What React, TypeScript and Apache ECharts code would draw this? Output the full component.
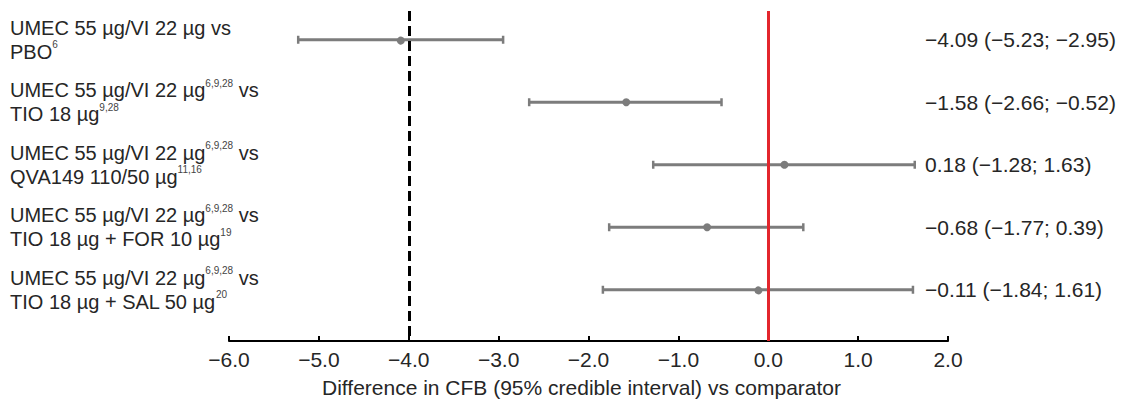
import React, { useEffect, useRef } from "react";
import * as echarts from "echarts";

// ---- data ----
const treatment = "UMEC 55 µg/VI 22 µg";
const treatmentRefs = ["", "6,9,28", "6,9,28", "6,9,28", "6,9,28"];
const comparators = ["PBO", "TIO 18 µg", "QVA149 110/50 µg", "TIO 18 µg + FOR 10 µg", "TIO 18 µg + SAL 50 µg"];
const comparatorRefs = ["6", "9,28", "11,16", "19", "20"];
const estimates = [-4.09, -1.58, 0.18, -0.68, -0.11];
const lowerCI = [-5.23, -2.66, -1.28, -1.77, -1.84];
const upperCI = [-2.95, -0.52, 1.63, 0.39, 1.61];
const xMin = -6;
const xMax = 2;
const xStep = 1;
const mcidLine = -4;
const noEffectLine = 0;
const xTitle = "Difference in CFB (95% credible interval) vs comparator";

const FONT = "Liberation Sans, Arial, sans-serif";
const TEXT = "#262626";
const GRAY = "#7c7c7c";

const fmt = (v: number, d: number) => (v < 0 ? "\u2212" : "") + Math.abs(v).toFixed(d);

export default function App() {
  const ref = useRef<HTMLDivElement>(null);
  useEffect(() => {
    document.body.style.margin = "0";
    const chart = echarts.init(ref.current!, null, { renderer: "svg" });
    const idx = comparators.map((_, i) => i);
    const rows = idx.map((i) => [i, estimates[i], lowerCI[i], upperCI[i]]);
    const leftLabel = (i: number) => {
      const r1 = treatmentRefs[i] ? `{sup|${treatmentRefs[i]}}` : "";
      return `${treatment}${r1} vs\n${comparators[i]}{sup|${comparatorRefs[i]}}`;
    };
    const rightLabel = (i: number) =>
      `${fmt(estimates[i], 2)} (${fmt(lowerCI[i], 2)}; ${fmt(upperCI[i], 2)})`;

    const yCommon = {
      type: "value" as const,
      min: -0.46,
      max: 4.82,
      inverse: true,
      axisLine: { show: false },
      axisTick: { show: false },
      splitLine: { show: false },
    };

    chart.setOption({
      animation: false,
      grid: { left: 229, right: 177, top: 11, bottom: 62, outerBoundsMode: "none" },
      xAxis: {
        type: "value",
        min: xMin,
        max: xMax,
        interval: xStep,
        axisLine: { show: true, onZero: false, lineStyle: { color: "#000", width: 2 } },
        axisTick: { show: true, inside: true, length: 5, lineStyle: { color: "#000", width: 2 } },
        splitLine: { show: false },
        axisLabel: {
          margin: 8,
          fontFamily: FONT,
          fontSize: 21,
          color: TEXT,
          formatter: (v: number) => fmt(v, 1),
        },
        name: xTitle,
        nameLocation: "middle",
        nameGap: 36,
        nameTextStyle: { fontFamily: FONT, fontSize: 21, color: TEXT, padding: [0, 14, 0, 0] },
      },
      yAxis: [
        {
          ...yCommon,
          position: "left",
          axisLabel: {
            customValues: idx,
            align: "left",
            margin: 219,
            fontFamily: FONT,
            fontSize: 20,
            lineHeight: 24,
            color: TEXT,
            formatter: (v: number) => leftLabel(Math.round(v)),
            rich: {
              sup: { fontFamily: FONT, fontSize: 10, lineHeight: 24, verticalAlign: "top", color: "#444" },
            },
          },
        },
        {
          ...yCommon,
          position: "right",
          axisLabel: {
            customValues: idx,
            align: "left",
            margin: -23,
            fontFamily: FONT,
            fontSize: 21,
            color: TEXT,
            formatter: (v: number) => rightLabel(Math.round(v)),
          },
        },
      ],
      series: [
        {
          type: "custom",
          xAxisIndex: 0,
          yAxisIndex: 0,
          encode: { x: [1, 2, 3], y: 0 },
          data: rows,
          renderItem: (_p: any, api: any) => {
            const y = api.value(0);
            const pE = api.coord([api.value(1), y]);
            const pL = api.coord([api.value(2), y]);
            const pH = api.coord([api.value(3), y]);
            const cap = 4;
            const style = { stroke: GRAY, lineWidth: 3 };
            return {
              type: "group",
              children: [
                { type: "line", shape: { x1: pL[0], y1: pL[1], x2: pH[0], y2: pH[1] }, style },
                { type: "line", shape: { x1: pL[0], y1: pL[1] - cap, x2: pL[0], y2: pL[1] + cap }, style: { stroke: GRAY, lineWidth: 2.5 } },
                { type: "line", shape: { x1: pH[0], y1: pH[1] - cap, x2: pH[0], y2: pH[1] + cap }, style: { stroke: GRAY, lineWidth: 2.5 } },
                { type: "circle", shape: { cx: pE[0], cy: pE[1], r: 4 }, style: { fill: GRAY } },
              ],
            };
          },
          markLine: {
            silent: true,
            symbol: "none",
            label: { show: false },
            data: [
              { xAxis: mcidLine, lineStyle: { color: "#000", width: 3, type: [10, 5] } },
              { xAxis: noEffectLine, lineStyle: { color: "#e3262d", width: 3, type: "solid" } },
            ],
          },
        },
      ],
    });
    return () => chart.dispose();
  }, []);
  return (
    <div
      ref={ref}
      style={{ position: "absolute", left: 0, top: 0, width: 1125, height: 403, background: "#fff" }}
    />
  );
}
